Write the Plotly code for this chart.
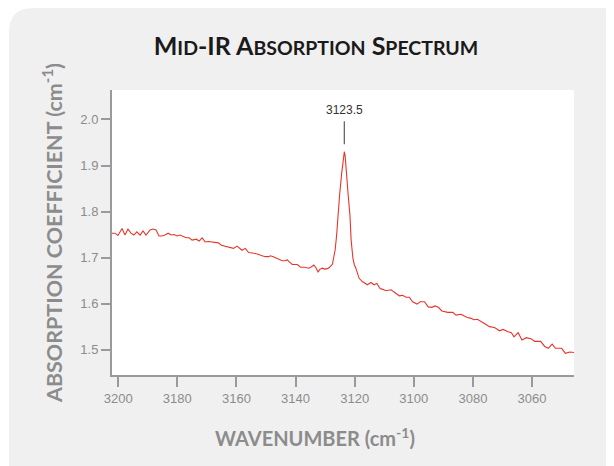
import plotly.graph_objects as go

# Spectrum (wavenumber in cm-1, absorption coefficient in cm-1)
wavenumber = [
    3202.1, 3201.1, 3200.1, 3198.7, 3197.7, 3196.7, 3195.7, 3194.7, 3193.7, 3192.6,
    3191.6, 3190.6, 3189.2, 3188.2, 3187.2, 3186.2, 3185.2, 3184.2, 3183.1, 3182.1,
    3181.1, 3180.1, 3179.1, 3178.0, 3177.0, 3176.0, 3175.0, 3173.6, 3172.6, 3171.6,
    3170.6, 3169.5, 3168.2, 3167.2, 3166.1, 3165.1, 3164.1, 3163.1, 3162.1,
    3161.0, 3159.8, 3159.0, 3158.1, 3157.0, 3155.9, 3154.6, 3153.0, 3151.3, 3150.2,
    3149.1, 3148.5, 3147.5, 3146.2, 3145.4, 3144.5, 3143.7, 3142.8, 3142.0, 3141.1,
    3139.4, 3138.3, 3136.9, 3135.5, 3134.6, 3133.8, 3133.0, 3132.4, 3131.7, 3130.9,
    3130.2, 3129.2, 3128.5, 3127.5, 3127.2, 3126.6, 3126.1, 3125.6, 3125.1, 3124.4,
    3123.8, 3123.5, 3123.2, 3122.6, 3122.2, 3121.6, 3121.2, 3120.6, 3120.1, 3119.6,
    3118.9, 3118.5, 3117.4, 3116.6, 3115.7, 3114.5, 3113.4, 3112.5, 3111.4, 3110.5,
    3109.4, 3107.7, 3106.0, 3104.9, 3103.8, 3102.6, 3101.5, 3100.4, 3098.9, 3097.8,
    3096.4, 3095.1, 3093.9, 3092.8, 3091.7, 3090.5, 3088.5, 3086.8, 3085.7, 3084.0,
    3082.9, 3081.9, 3080.6, 3079.7, 3078.5, 3077.4, 3076.1, 3074.4, 3072.7, 3071.0,
    3069.8, 3068.1, 3067.0, 3066.1, 3064.7, 3063.4, 3061.9, 3060.2, 3059.1, 3057.1,
    3055.7, 3054.5, 3053.2, 3052.1, 3050.0, 3048.7, 3047.2, 3045.8,
]
absorption = [
    1.753, 1.753, 1.748, 1.763, 1.749, 1.762, 1.753, 1.749, 1.756, 1.749,
    1.758, 1.749, 1.760, 1.762, 1.760, 1.747, 1.747, 1.749, 1.753, 1.749,
    1.750, 1.747, 1.749, 1.745, 1.743, 1.743, 1.738, 1.740, 1.736, 1.743,
    1.734, 1.735, 1.734, 1.734, 1.732, 1.727, 1.725, 1.724, 1.721,
    1.720, 1.725, 1.721, 1.716, 1.720, 1.711, 1.710, 1.708, 1.704, 1.702,
    1.702, 1.704, 1.702, 1.698, 1.696, 1.693, 1.693, 1.695, 1.690, 1.685,
    1.685, 1.679, 1.679, 1.677, 1.680, 1.684, 1.677, 1.669, 1.675, 1.677,
    1.675, 1.676, 1.679, 1.686, 1.697, 1.717, 1.749, 1.799, 1.836, 1.883,
    1.919, 1.930, 1.919, 1.879, 1.836, 1.792, 1.738, 1.699, 1.684, 1.677,
    1.664, 1.655, 1.648, 1.644, 1.641, 1.646, 1.641, 1.644, 1.633, 1.631,
    1.628, 1.630, 1.623, 1.617, 1.618, 1.614, 1.614, 1.604, 1.599, 1.604,
    1.604, 1.593, 1.592, 1.595, 1.592, 1.584, 1.581, 1.581, 1.575, 1.577,
    1.573, 1.570, 1.568, 1.565, 1.566, 1.561, 1.557, 1.550, 1.548, 1.541,
    1.544, 1.539, 1.537, 1.528, 1.537, 1.521, 1.526, 1.523, 1.518, 1.518,
    1.507, 1.503, 1.512, 1.503, 1.503, 1.492, 1.495, 1.494,
]

x_ticks = [3200, 3180, 3160, 3140, 3120, 3100, 3080, 3060]
y_ticks = [1.5, 1.6, 1.7, 1.8, 1.9, 2.0]
peak_x = 3123.5
peak_label = "3123.5"

GRAY_TXT = "#8c8c8c"
AXIS_COL = "#9a9a9a"
PANEL = "#f0f0f0"

# The page body adds an 8px offset; the plot area in figure pixels:
L, T, R, B = 104, 82, 566, 367
FW, FH = 614, 466
W, H = float(R - L), float(B - T)

def px(v):
    return (v - L) / W

def py(v):
    return (B - v) / H

fig = go.Figure()
fig.add_trace(go.Scatter(
    x=wavenumber, y=absorption, mode="lines",
    line=dict(color="#e8352b", width=1.1), hoverinfo="skip", showlegend=False,
))

# rounded light-gray panel behind everything
xl, xr = px(1), px(607)
yt, yb = py(0), py(480)
r1x, r1y = 24 / W, 24 / H
r2x, r2y = 12 / W, 12 / H
path = (f"M {xl},{yb} L {xl},{yt - r1y} Q {xl},{yt} {xl + r1x},{yt} "
        f"L {xr - r2x},{yt} Q {xr},{yt} {xr},{yt - r2y} L {xr},{yb} Z")
fig.add_shape(type="path", path=path, xref="paper", yref="paper",
              fillcolor=PANEL, line=dict(width=0), layer="below")
fig.add_shape(type="rect", xref="paper", yref="paper", x0=0, x1=1, y0=0, y1=1,
              fillcolor="white", line=dict(width=0), layer="below")

# peak marker
fig.add_shape(type="line", xref="x", yref="y", x0=peak_x, x1=peak_x,
              y0=1.946, y1=1.996, line=dict(color="#666666", width=1.3))
fig.add_annotation(x=peak_x, y=2.020, xref="x", yref="y", text=peak_label,
                   showarrow=False, font=dict(family="Liberation Sans", size=12, color="#333333"))

# x-axis title (centred left of the plot centre, as in the reference)
fig.add_annotation(x=px(307), y=py(429), xref="paper", yref="paper",
                   text="WAVENUMBER (cm<sup>-1</sup>)", showarrow=False,
                   xanchor="center", yanchor="middle",
                   font=dict(family="Lato", size=20, color=GRAY_TXT, weight="bold"))

sc = "font-size:19.5px"
title = (f"M<span style='{sc}'>ID</span>-IR A<span style='{sc}'>BSORPTION</span> "
         f"S<span style='{sc}'>PECTRUM</span>")

fig.update_layout(
    width=FW, height=FH,
    margin=dict(l=L, r=FW - R, t=T, b=FH - B),
    paper_bgcolor="white", plot_bgcolor="white",
    title=dict(text=title, x=308 / FW, xanchor="center", y=1 - 47 / FH, yanchor="bottom",
               font=dict(family="Lato", size=25, color="#1a1a1a", weight="bold")),
    xaxis=dict(
        range=[3202.1, 3045.8], tickvals=x_ticks, ticktext=[str(v) for v in x_ticks],
        showgrid=False, zeroline=False, showline=True, linecolor=AXIS_COL, linewidth=2,
        ticks="outside", ticklen=10, tickwidth=1.5, tickcolor=AXIS_COL,
        tickfont=dict(family="Liberation Sans", size=13, color=GRAY_TXT),
    ),
    yaxis=dict(
        range=[1.445, 2.064], tickvals=y_ticks, ticktext=[f"{v:.1f}" for v in y_ticks],
        showgrid=False, zeroline=False, showline=True, linecolor=AXIS_COL, linewidth=2,
        ticks="outside", ticklen=9, tickwidth=1.5, tickcolor=AXIS_COL,
        tickfont=dict(family="Liberation Sans", size=13, color=GRAY_TXT),
        title=dict(text="ABSORPTION COEFFICIENT (cm<sup>-1</sup>)", standoff=12,
                   font=dict(family="Lato", size=21.5, color=GRAY_TXT, weight="bold")),
    ),
)

fig.write_html("out.html")
